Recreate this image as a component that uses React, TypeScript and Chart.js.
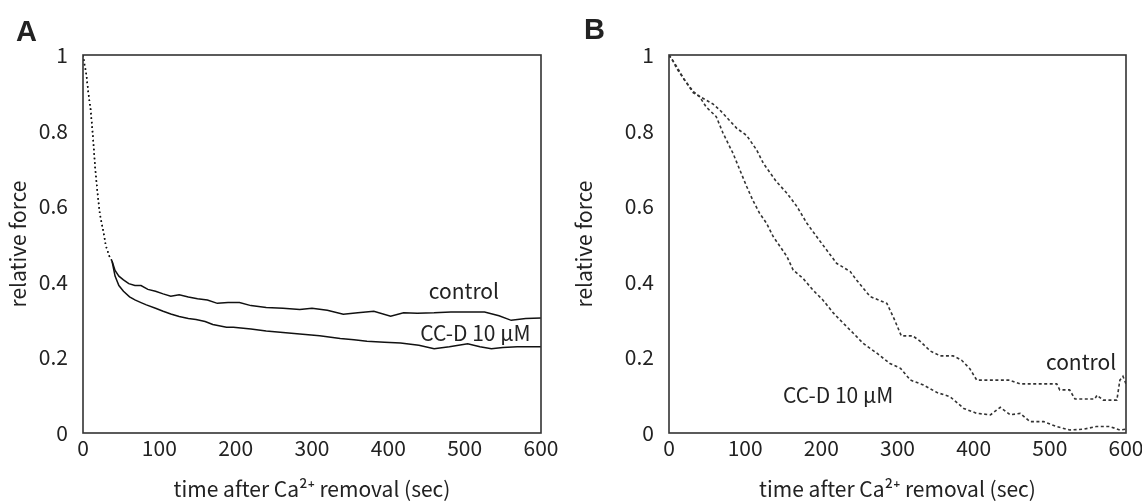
import React, { useEffect, useRef } from 'react';
import { Chart, registerables } from 'chart.js';

Chart.register(...registerables);

// ---------- tick labels ----------
const xTickLabels = ['0', '100', '200', '300', '400', '500', '600'];
const yTickLabels = ['0', '0.2', '0.4', '0.6', '0.8', '1'];

// ---------- Panel A ----------
const timeAControl = [0, 2, 4, 7, 10, 13, 16, 19, 22, 26, 30, 34, 38, 42, 47, 53, 60, 68, 76, 85, 95, 105, 115, 126, 138, 150, 163, 176, 190, 205, 220, 240, 262, 284, 300, 320, 341, 360, 381, 403, 420, 438, 460, 482, 505, 526, 545, 561, 580, 600];
const forceAControl = [1.0, 0.975, 0.955, 0.9, 0.855, 0.785, 0.7, 0.635, 0.58, 0.54, 0.495, 0.47, 0.455, 0.43, 0.415, 0.405, 0.395, 0.39, 0.39, 0.38, 0.375, 0.368, 0.362, 0.366, 0.36, 0.355, 0.352, 0.343, 0.345, 0.345, 0.337, 0.332, 0.33, 0.327, 0.33, 0.325, 0.314, 0.318, 0.322, 0.309, 0.318, 0.317, 0.318, 0.32, 0.32, 0.32, 0.31, 0.298, 0.303, 0.304];

const timeACCD = [0, 2, 4, 7, 10, 13, 16, 19, 22, 26, 30, 34, 38, 42, 47, 53, 61, 68, 76, 83, 95, 105, 115, 126, 138, 148, 160, 170, 188, 197, 220, 240, 262, 284, 310, 337, 355, 372, 395, 416, 440, 460, 480, 504, 520, 535, 550, 569, 585, 600];
const forceACCD = [1.0, 0.975, 0.955, 0.9, 0.855, 0.785, 0.7, 0.635, 0.58, 0.54, 0.495, 0.47, 0.455, 0.415, 0.39, 0.375, 0.36, 0.352, 0.345, 0.339, 0.33, 0.322, 0.315, 0.308, 0.303, 0.3, 0.295, 0.287, 0.28, 0.28, 0.275, 0.27, 0.266, 0.262, 0.257, 0.25, 0.247, 0.243, 0.24, 0.238, 0.232, 0.223, 0.228, 0.236, 0.228, 0.223, 0.226, 0.228, 0.228, 0.228];

// ---------- Panel B ----------
const timeBControl = [0, 5, 10, 20, 32, 45, 58, 67, 78, 89, 102, 115, 124, 141, 155, 168, 181, 194, 207, 220, 238, 246, 264, 286, 296, 305, 320, 329, 343, 356, 373, 384, 395, 404, 421, 447, 461, 487, 509, 513, 526, 533, 559, 562, 570, 588, 592, 596, 600];
const forceBControl = [1.0, 0.985, 0.97, 0.935, 0.9, 0.885, 0.87, 0.854, 0.83, 0.806, 0.787, 0.749, 0.713, 0.665, 0.634, 0.599, 0.555, 0.519, 0.484, 0.449, 0.427, 0.405, 0.361, 0.343, 0.3, 0.257, 0.257, 0.244, 0.217, 0.204, 0.204, 0.193, 0.17, 0.14, 0.14, 0.14, 0.13, 0.13, 0.13, 0.114, 0.114, 0.09, 0.09, 0.1, 0.087, 0.087, 0.14, 0.15, 0.13];

const timeBCCD = [0, 5, 10, 20, 32, 40, 49, 62, 71, 84, 93, 102, 110, 119, 128, 137, 146, 155, 163, 176, 189, 202, 216, 229, 242, 255, 273, 290, 304, 317, 334, 352, 369, 387, 404, 422, 435, 448, 461, 474, 492, 509, 526, 544, 561, 579, 592, 600];
const forceBCCD = [1.0, 0.985, 0.965, 0.935, 0.903, 0.89, 0.862, 0.837, 0.793, 0.74, 0.696, 0.652, 0.616, 0.581, 0.555, 0.519, 0.493, 0.466, 0.431, 0.409, 0.378, 0.352, 0.317, 0.29, 0.264, 0.237, 0.211, 0.184, 0.171, 0.14, 0.127, 0.107, 0.096, 0.065, 0.052, 0.048, 0.068, 0.048, 0.052, 0.03, 0.03, 0.017, 0.008, 0.01, 0.017, 0.017, 0.008, 0.01];

// ---------- text ----------
const xTitle = 'time after Ca\u00B2\u207A removal (sec)';
const yTitle = 'relative force';
const seriesNames = ['control', 'CC-D 10 \u03BCM'];

const FONT = '"Noto Sans CJK JP", "Noto Sans", sans-serif';
const TEXT = '#222';

const toXY = (xs: number[], ys: number[]) => xs.map((x, i) => ({ x, y: ys[i] }));

const framePlugin = {
  id: 'frameNotes',
  afterDatasetsDraw(chart: any, _args: any, opts: any) {
    const { ctx, chartArea: a } = chart;
    ctx.save();
    ctx.strokeStyle = '#333';
    ctx.lineWidth = 1.6;
    ctx.strokeRect(a.left, a.top, a.right - a.left, a.bottom - a.top);
    ctx.fillStyle = TEXT;
    ctx.font = `21px ${FONT}`;
    ctx.textAlign = 'center';
    ctx.textBaseline = 'middle';
    for (const n of opts.notes || []) {
      const x = chart.scales.x.getPixelForValue(n.t);
      const y = chart.scales.y.getPixelForValue(n.v);
      ctx.fillText(n.text, x, y);
    }
    ctx.font = 'bold 29px "Liberation Sans", Arial, sans-serif';
    ctx.textAlign = 'left';
    ctx.textBaseline = 'alphabetic';
    ctx.fillText(opts.label, opts.labelX, opts.labelY);
    ctx.restore();
  },
};

function makeConfig(p: any) {
  return {
    type: 'line',
    data: { datasets: p.datasets },
    plugins: [framePlugin],
    options: {
      responsive: false,
      animation: false,
      events: [],
      layout: { padding: { top: 55, right: p.padRight, left: 0, bottom: 0 } },
      plugins: {
        legend: { display: false },
        tooltip: { enabled: false },
        frameNotes: { notes: p.notes, label: p.label, labelX: p.labelX, labelY: p.labelY },
      },
      scales: {
        x: {
          type: 'linear',
          min: 0,
          max: 600,
          border: { display: false },
          grid: { display: false, drawTicks: false },
          ticks: {
            stepSize: 100,
            padding: 2,
            autoSkip: false,
            maxRotation: 0,
            color: TEXT,
            font: { family: FONT, size: 21 },
            callback: (v: number) => xTickLabels[Math.round(v / 100)] ?? '',
          },
          title: {
            display: true,
            text: xTitle,
            color: TEXT,
            font: { family: FONT, size: 21 },
            padding: { top: 0, bottom: 1 },
          },
          afterFit: (s: any) => {
            s.height = 70;
            s.paddingLeft = 0;
            s.paddingRight = 0;
          },
        },
        y: {
          type: 'linear',
          min: 0,
          max: 1,
          border: { display: false },
          grid: { display: false, drawTicks: false },
          ticks: {
            stepSize: 0.2,
            padding: 15,
            color: TEXT,
            font: { family: FONT, size: 21 },
            callback: (v: number) => yTickLabels[Math.round(v * 5)] ?? '',
          },
          title: {
            display: true,
            text: yTitle,
            color: TEXT,
            font: { family: FONT, size: 21 },
            padding: { top: p.yTitlePad, bottom: 0 },
          },
          afterFit: (s: any) => {
            s.width = p.yWidth;
            s.paddingTop = 0;
            s.paddingBottom = 0;
          },
        },
      },
    },
  } as any;
}

function Panel({ config, left }: { config: any; left: number }) {
  const ref = useRef<HTMLCanvasElement | null>(null);
  useEffect(() => {
    if (!ref.current) return;
    const chart = new Chart(ref.current, config);
    return () => chart.destroy();
  }, [config]);
  return (
    <canvas
      ref={ref}
      width={571}
      height={503}
      style={{ position: 'absolute', left, top: 0, width: 571, height: 503 }}
    />
  );
}

const lineA = (xs: number[], ys: number[]) => ({
  data: toXY(xs, ys),
  borderColor: '#111',
  borderWidth: 1.5,
  pointRadius: 0,
  fill: false,
  tension: 0,
  segment: {
    borderDash: (ctx: any) => (ctx.p1.parsed.x <= 40 ? [1.5, 3] : undefined),
  },
});

const lineB = (xs: number[], ys: number[]) => ({
  data: toXY(xs, ys),
  borderColor: '#333',
  borderWidth: 1.6,
  borderDash: [3, 2.5],
  pointRadius: 0,
  fill: false,
  tension: 0,
});

const configA = makeConfig({
  datasets: [lineA(timeAControl, forceAControl), lineA(timeACCD, forceACCD)],
  notes: [
    { text: seriesNames[0], t: 499, v: 0.376 },
    { text: seriesNames[1], t: 514, v: 0.265 },
  ],
  label: 'A',
  labelX: 16,
  labelY: 41,
  padRight: 30,
  yWidth: 83,
  yTitlePad: 5,
});

const configB = makeConfig({
  datasets: [lineB(timeBControl, forceBControl), lineB(timeBCCD, forceBCCD)],
  notes: [
    { text: seriesNames[0], t: 541, v: 0.189 },
    { text: seriesNames[1], t: 222, v: 0.1 },
  ],
  label: 'B',
  labelX: 13,
  labelY: 39,
  padRight: 16,
  yWidth: 98,
  yTitlePad: 0,
});

export default function App() {
  return (
    <div
      style={{
        position: 'fixed',
        left: 0,
        top: 0,
        width: 1142,
        height: 503,
        background: '#fff',
        overflow: 'hidden',
      }}
    >
      <Panel config={configA} left={0} />
      <Panel config={configB} left={571} />
    </div>
  );
}
